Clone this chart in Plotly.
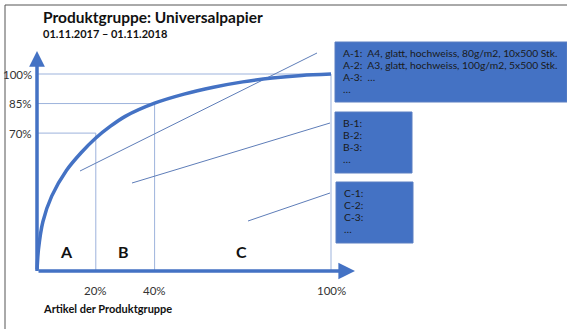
import plotly.graph_objects as go

# ---------------- data ----------------
pct_articles = [0, 0.5, 2, 5, 10, 15, 20, 25, 30, 40, 50, 60, 70, 80, 90, 100]
pct_value = [0, 11, 25, 38, 51, 60, 67.5, 73.5, 78.5, 85.2, 89.8, 93.3, 96, 98, 99.3, 100]

class_bounds_x = [20, 40, 100]          # ABC limits on article axis
class_bounds_y = [70, 85, 100]          # corresponding cumulative value
x_tick_vals = [20, 40, 100]
x_tick_text = ["20%", "40%", "100%"]
y_tick_vals = [70, 85, 100]
y_tick_text = ["70%", "85%", "100%"]
class_labels = ["A", "B", "C"]
class_label_x = [10, 29.5, 69.5]

box_a_lines = ["A-1:  A4, glatt, hochweiss, 80g/m2, 10x500 Stk.",
               "A-2:  A3, glatt, hochweiss, 100g/m2, 5x500 Stk.",
               "A-3:  …", "…"]
box_b_lines = ["B-1:", "B-2:", "B-3:", "…"]
box_c_lines = ["C-1:", "C-2:", "C-3:", "…"]

title = "Produktgruppe: Universalpapier"
subtitle = "01.11.2017 – 01.11.2018"
x_title = "Artikel der Produktgruppe"

# ---------------- geometry ----------------
W, H = 567, 329
X0P, X100P = 37, 331
Y0P, Y100P = 271, 74
sx = (X100P - X0P) / 100.0
sy = (Y0P - Y100P) / 100.0
xr = [-X0P / sx, (W - X0P) / sx]
yr = [-(H - Y0P) / sy, Y0P / sy]

def dx(p):  # pixel -> data x
    return (p - X0P) / sx

def dy(p):  # pixel -> data y
    return (Y0P - p) / sy

BLUE = "#4472C4"
GUIDE = "#9DB3DC"
CALL = "#5E7DB8"
FONT = "Lato, 'Open Sans', sans-serif"
TXT = "#1a1a1a"

fig = go.Figure()

# guide lines
for bx, by in zip(class_bounds_x, class_bounds_y):
    fig.add_trace(go.Scatter(x=[0, bx, bx], y=[by, by, 0], mode="lines",
                             line=dict(color=GUIDE, width=1), hoverinfo="skip",
                             showlegend=False))

# callout lines
callouts = [((80, 171), (317, 53)), ((132, 183), (330, 123)), ((248, 221), (330, 193))]
for (p0, p1) in callouts:
    fig.add_trace(go.Scatter(x=[dx(p0[0]), dx(p1[0])], y=[dy(p0[1]), dy(p1[1])],
                             mode="lines", line=dict(color=CALL, width=1),
                             hoverinfo="skip", showlegend=False))

# Pareto curve
fig.add_trace(go.Scatter(x=pct_articles, y=pct_value, mode="lines",
                         line=dict(color=BLUE, width=3.5, shape="spline", smoothing=0.8),
                         hoverinfo="skip", showlegend=False, cliponaxis=False))

annotations = []
shapes = []

# axes with arrows
annotations.append(dict(x=0, y=dy(51), ax=0, ay=0, xref="x", yref="y", axref="x", ayref="y",
                        showarrow=True, arrowhead=2, arrowsize=0.9, arrowwidth=3.5,
                        arrowcolor=BLUE, text=""))
annotations.append(dict(x=dx(355), y=0, ax=0, ay=0, xref="x", yref="y", axref="x", ayref="y",
                        showarrow=True, arrowhead=2, arrowsize=0.95, arrowwidth=3.5,
                        arrowcolor=BLUE, text=""))

# tick labels
for v, t in zip(y_tick_vals, y_tick_text):
    annotations.append(dict(x=dx(34), y=v, xref="x", yref="y", text=t, showarrow=False,
                            xanchor="right", yanchor="middle",
                            font=dict(family=FONT, size=11.5, color="#333")))
for v, t in zip(x_tick_vals, x_tick_text):
    annotations.append(dict(x=v, y=dy(290), xref="x", yref="y", text=t, showarrow=False,
                            xanchor="center", yanchor="middle",
                            font=dict(family=FONT, size=11.5, color="#333")))

# class letters
for v, t in zip(class_label_x, class_labels):
    annotations.append(dict(x=v, y=dy(251), xref="x", yref="y", text="<b>%s</b>" % t,
                            showarrow=False, xanchor="center", yanchor="middle",
                            font=dict(family=FONT, size=16, color="#111")))

# titles
annotations.append(dict(x=41 / W, y=1 - 17 / H, xref="paper", yref="paper",
                        text="<b>%s</b>" % title, showarrow=False, xanchor="left",
                        yanchor="middle", font=dict(family=FONT, size=15.5, color="#111")))
annotations.append(dict(x=41 / W, y=1 - 34 / H, xref="paper", yref="paper",
                        text="<b>%s</b>" % subtitle, showarrow=False, xanchor="left",
                        yanchor="middle", font=dict(family=FONT, size=11, color="#111")))
annotations.append(dict(x=41 / W, y=1 - 308 / H, xref="paper", yref="paper",
                        text="<b>%s</b>" % x_title, showarrow=False, xanchor="left",
                        yanchor="middle", font=dict(family=FONT, size=11, color="#111")))

# boxes
boxes = [((335, 42, 567, 102), box_a_lines),
         ((335, 112, 412, 173), box_b_lines),
         ((336, 182, 413, 243), box_c_lines)]
for (x0, y0, x1, y1), lines in boxes:
    shapes.append(dict(type="rect", xref="paper", yref="paper",
                       x0=x0 / W, x1=x1 / W, y0=1 - y0 / H, y1=1 - y1 / H,
                       fillcolor=BLUE, line=dict(color="#5B7FC2", width=1), layer="above"))
    for i, ln in enumerate(lines):
        annotations.append(dict(x=(x0 + 6) / W, y=1 - (y0 + 11 + 12 * i) / H,
                                xref="paper", yref="paper", text=ln, showarrow=False,
                                xanchor="left", yanchor="middle",
                                font=dict(family=FONT, size=10.3, color=TXT)))

# frame (top and left border)
shapes.append(dict(type="line", xref="paper", yref="paper", x0=5 / W, x1=1, y0=1 - 5 / H,
                   y1=1 - 5 / H, line=dict(color="#555", width=1)))
shapes.append(dict(type="line", xref="paper", yref="paper", x0=5 / W, x1=5 / W, y0=1 - 5 / H,
                   y1=0, line=dict(color="#555", width=1)))

fig.update_layout(
    width=W, height=H, autosize=False,
    margin=dict(l=0, r=0, t=0, b=0),
    paper_bgcolor="white", plot_bgcolor="white",
    xaxis=dict(range=xr, visible=False, fixedrange=True),
    yaxis=dict(range=yr, visible=False, fixedrange=True),
    annotations=annotations, shapes=shapes,
    showlegend=False,
)

fig.write_html("out.html", config={"displayModeBar": False},
               post_script="document.body.style.margin='0';document.body.style.overflow='hidden';")
